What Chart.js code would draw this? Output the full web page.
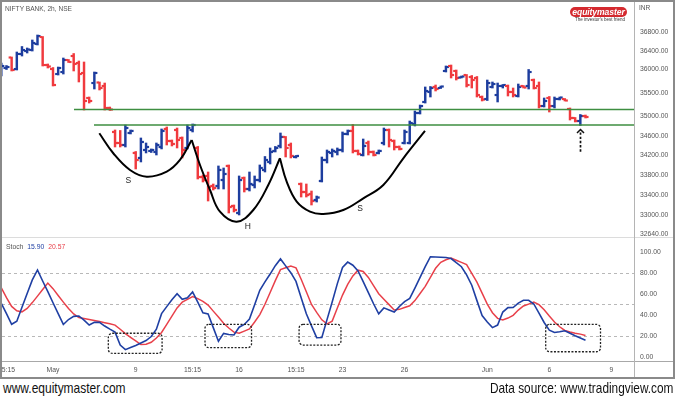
<!DOCTYPE html>
<html><head><meta charset="utf-8">
<script src="https://cdn.jsdelivr.net/npm/chart.js@4"></script>
<style>
html,body{margin:0;padding:0;background:#fff;width:675px;height:398px;overflow:hidden;font-family:"Liberation Sans",Arial,sans-serif;}
canvas{position:absolute;left:0;}
#c1{top:0;}
#c2{top:237px;}
.abs{position:absolute;white-space:nowrap;}
.hl{position:absolute;height:1px;}
.foot{position:absolute;top:380px;font-family:"Liberation Sans",Arial,sans-serif;font-size:14.8px;color:#111;white-space:nowrap;}
#frame{position:absolute;left:0;top:0;width:675px;height:379px;border:2px solid #8a8a8a;box-sizing:border-box;pointer-events:none;}
</style></head><body>
<canvas id="c1" width="675" height="240"></canvas>
<canvas id="c2" width="675" height="141"></canvas>
<div class="hl" style="left:0;top:237px;width:675px;background:#dcdcdc"></div>
<div class="hl" style="left:0;top:361px;width:675px;background:#a8a8a8"></div>
<div class="abs" style="left:634px;top:0;width:1px;height:378px;background:#b4b4b4"></div>
<div class="abs" style="left:5px;top:5px;font-size:6.6px;color:#555">NIFTY BANK, 2h, NSE</div>
<div class="abs" style="left:639px;top:4px;font-size:6.6px;color:#555">INR</div>
<div class="abs" style="left:570px;top:7px;width:57px;height:10px;border-radius:5px;background:#d42a2f;color:#fff;font-weight:bold;font-style:italic;font-size:8.6px;line-height:10px;text-align:center;letter-spacing:-0.1px">equitymaster</div>
<div class="abs" style="left:548px;top:17px;width:104px;font-size:9px;color:#333;text-align:center;transform:scale(0.5);transform-origin:50% 0">The investor's best friend</div>
<div class="abs" style="left:6px;top:243px;font-size:6.8px;color:#555">Stoch <span style="color:#1f3fa3;margin-left:2px">15.90</span> <span style="color:#e8404a;margin-left:2px">20.57</span></div>
<div class="foot" style="left:3px;transform:scaleX(0.81);transform-origin:0 0">www.equitymaster.com</div>
<div class="foot" style="right:2px;transform:scaleX(0.80);transform-origin:100% 0">Data source: www.tradingview.com</div>
<div id="frame"></div>
<script>
// ---------- DATA ----------
const FIRST_INDEX = -10; // bar index of first bar (0 = 2 May 09:15)
const open  = [35940,36026,36252,36004,36328,36392,36414,36545,36697,36090,
  36004,35897,35940,36198,36284,36133,35919,35388,35705,35716,35642,35178,
  34679,34452,34411,34658,34248,34146,34309,34289,34268,34370,34741,34493,34720,34555,34350,34720,
  34350,33761,33782,33581,33581,33701,33984,33183,33045,33741,33521,33601,
  33701,33903,34065,34289,34391,34576,34411,34166,33621,33461,33421,33302,
  33681,34105,34248,34268,34309,34638,34700,34289,34207,34452,34268,34248,
  34452,34720,34493,34370,34452,34452,34844,35073,35304,35515,35621,35599,
  35962,36069,35962,35823,35876,35833,35812,35409,35367,35621,35451,35642,
  35642,35515,35430,35642,35642,35769,35642,35219,35388,35219,35367,35367,
  35157,34969,34906,35010];
const high  = [36133,36079,36263,36371,36490,36458,36632,36741,36708,36112,
  36036,36047,36241,36209,36338,36176,36155,35409,35940,35727,35705,35198,
  34720,34710,34823,34720,34278,34555,34452,34330,34452,34741,34782,34514,34761,34576,34823,34844,
  34381,33802,33862,33621,33984,33943,34004,33203,33782,33761,33862,33782,
  34004,34176,34350,34381,34658,34586,34452,34197,33641,33621,33481,33381,
  34166,34309,34330,34350,34679,34720,34834,34309,34534,34493,34289,34309,
  34761,34741,34514,34391,34720,34906,35115,35240,35621,35631,35663,35642,
  36069,36090,35983,35855,35887,35865,35844,35430,35769,35727,35705,35674,
  35663,35599,35684,35652,35994,35790,35727,35388,35420,35409,35409,35377,
  35178,34979,35042,35031];
const low   = [35855,35994,35962,35983,36284,36349,36392,36523,36069,36026,
  35642,35876,35897,36144,35962,35727,35136,35282,35578,35557,35136,35126,
  34370,34370,34370,34638,33923,34065,34248,34258,34207,34330,34411,34391,34350,34146,34330,34679,
  33721,33661,33282,33501,33521,33521,33045,33065,33006,33461,33481,33541,
  33661,33862,34024,34268,34350,34166,34146,34146,33361,33361,33203,33262,
  33661,34044,34166,34207,34268,34617,34248,34207,34187,34207,34187,34228,
  34411,34370,34309,34309,34432,34432,34803,35052,35282,35409,35536,35589,
  35940,35812,35769,35812,35621,35599,35409,35325,35335,35599,35304,35599,
  35430,35409,35409,35599,35578,35578,35178,35198,35094,35178,35346,35325,
  34927,34886,34813,34969];
const close = [36069,36047,35983,36328,36414,36425,36567,36719,36090,36058,
  35663,36026,36198,36155,36112,35897,35325,35325,35919,35599,35178,35146,
  34452,34411,34761,34700,34105,34473,34370,34309,34411,34700,34493,34432,34514,34309,34761,34823,
  33761,33701,33561,33541,33903,33822,33163,33104,33701,33521,33621,33701,
  33943,34105,34268,34350,34576,34350,34187,34187,33461,33401,33282,33351,
  34105,34268,34289,34309,34638,34700,34289,34228,34391,34268,34207,34289,
  34720,34514,34370,34330,34679,34865,35073,35219,35536,35599,35578,35631,
  36047,35876,35812,35844,35663,35769,35451,35356,35705,35684,35642,35663,
  35515,35451,35621,35610,35940,35599,35219,35325,35219,35367,35398,35335,
  34969,34906,35010,34990];
const stochK = [51,41.4,31.2,34.1,47.4,60.5,73.4,82.9,72.4,62.2,
  51.7,41.3,31,35.7,38.7,39.1,35.2,30.5,33,33,29.5,26.5,
  23.7,11.3,7,9,11,13.4,15.7,19.5,26.5,41.3,48,54.6,60.2,55,56.3,62,
  52.2,42,41,28,15,22.5,21.4,21,28.4,31,36.2,49.7,
  63.5,71.5,79,87,93.4,86.8,80.3,72,56.5,41.2,29.6,18.4,
  18.6,35.6,52.4,69.9,85.3,90.4,87.4,82,71.8,61.4,50.7,41.1,
  46.8,44.8,42.8,48.1,52.7,55.8,65.7,75.9,86,95.5,95.2,95,
  94.8,93.8,89.8,86,78.3,68.4,53.7,39.5,33.3,28,30.4,42.8,
  47,47.1,51.3,54,54,50.5,41.7,32.9,25.6,23.4,24,25,
  22.6,20.2,18.1,15.9];
const stochD = [66,56.5,48.2,44.1,42.9,46.3,51.8,58,64.3,70.4,
  65.1,58.6,52.3,46.2,41,37.6,36.7,35.7,34.8,33.8,32.7,31.6,
  30.4,26.4,22.3,18.8,15.4,11.9,12.2,14,18.1,23.4,31,38.9,46.7,52.2,54.9,57.6,
  55.6,53,49.5,43.7,38.1,32.1,27.6,23.7,22.6,24.7,26.8,33.3,
  40.4,50.2,61.4,72.7,83.2,85,86.7,84.9,74,62.1,50,42.5,
  35.4,31.6,34.2,46.7,59,69.2,77.2,82.7,81.4,75.8,68,60.3,
  55.1,49.9,44.8,45.4,47.2,48.8,53.7,60.5,67.3,75.9,84.5,90.2,
  92.6,94.2,92.1,90.1,88,79.6,71.3,60.8,50.3,42.2,36.8,35.3,
  37.1,39.7,44.7,48.6,50.4,52.3,49.9,45,39,33.3,28.8,25.3,
  23.9,22.7,21.8,20.57];
const priceTicks = [32640,33000,33400,33800,34200,34600,35000,35500,36000,36400,36800];
const stochTicks = [0,20,40,50,60,80,100];
const stochBands = [20,50,80];
const timeTickIndex = [-9,0,16,27,36,47,56,68,84,96,108];
const timeTickLabels = ['15:15','May','9','15:15','16','15:15','23','26','Jun','6','9'];
// annotation levels / drawings (bar index, price)
const resistance = {from: 4.06, level: 35146};
const support = {from: 7.93, level: 34823};
const leftShoulder = [[8.96,34652],[11.66,34242],[14.89,33903],[18.12,33768],[22.0,33869],[24.56,34105],[26.83,34514]];
const headCurve = [[26.83,34514],[28.43,34004],[30.37,33501],[32.3,33071],[35.53,32875],[38.74,33104],[41.64,33601],[43.89,34140]];
const rightShoulder = [[43.89,34140],[45.2,33667],[47.14,33269],[49.71,33071],[52.28,33026],[56.15,33104],[60.02,33335],[63.89,33601],[67.76,34140],[71.95,34700]];
const hsLabels = [{x:14.56,y:33681,t:'S'},{x:37.7,y:32772,t:'H'},{x:59.4,y:33137,t:'S'}];
const arrowMark = {x:102, from:34275, to:34741};
const stochBoxes = [[10.7,21.1,22.6,3.5],[29.4,38.4,31.1,8.9],[47.6,55.7,31.1,11.4],[95.3,105.9,31.1,5]];

// ---------- VIEW ----------
const X_MIN = -9.865, X_MAX = 112.38;
const PRICE_MIN = 32576, PRICE_MAX = 37515;
const STOCH_MIN = -4.76, STOCH_MAX = 114.3;
const BLUE = '#1d3d9e', RED = '#f03a3e', GREEN = '#3e8e41';
const TICK_HALF = 16;
const BAR_W = 1.8;
const FONT = {family:'"Liberation Sans", Arial, sans-serif', size:6.8};

const idx = open.map((_, k) => k + FIRST_INDEX);
const barColor = close.map((c, k) => c >= open[k] ? BLUE : RED);

function fixAxis(width){
  return function(s){
    if (width !== undefined) { if (s.isHorizontal()) s.height = width; else s.width = width; }
    s.paddingLeft = 0; s.paddingRight = 0; s.paddingTop = 0; s.paddingBottom = 0;
  };
}

const overlay1 = {
  id:'overlay1',
  afterDatasetsDraw(chart){
    const {ctx, scales:{x, y}} = chart;
    ctx.save();
    ctx.fillStyle = '#222';
    ctx.font = '8.5px "Liberation Sans", Arial';
    ctx.textAlign = 'center'; ctx.textBaseline = 'middle';
    hsLabels.forEach(l => ctx.fillText(l.t, x.getPixelForValue(l.x), y.getPixelForValue(l.y)));
    const ax = Math.round(x.getPixelForValue(arrowMark.x)) + 0.5;
    const y0 = y.getPixelForValue(arrowMark.from), y1 = y.getPixelForValue(arrowMark.to);
    ctx.strokeStyle = '#111'; ctx.lineWidth = 1.7;
    ctx.setLineDash([2.4, 1.8]);
    ctx.beginPath(); ctx.moveTo(ax, y0); ctx.lineTo(ax, y1 + 1.5); ctx.stroke();
    ctx.setLineDash([]);
    ctx.lineWidth = 1.5;
    ctx.beginPath(); ctx.moveTo(ax - 3.5, y1 + 4); ctx.lineTo(ax, y1 + 0.5); ctx.lineTo(ax + 3.5, y1 + 4); ctx.stroke();
    ctx.restore();
  }
};
const overlay2 = {
  id:'overlay2',
  afterDatasetsDraw(chart){
    const {ctx, scales:{x, y}} = chart;
    ctx.save();
    ctx.strokeStyle = '#222'; ctx.lineWidth = 1.3; ctx.setLineDash([2, 1.5]);
    stochBoxes.forEach(b => {
      const l = x.getPixelForValue(b[0]), r = x.getPixelForValue(b[1]);
      const t = y.getPixelForValue(b[2]), bt = y.getPixelForValue(b[3]);
      ctx.beginPath(); ctx.roundRect(l, t, r - l, bt - t, 4); ctx.stroke();
    });
    ctx.restore();
  }
};

const curveDs = (pts) => ({type:'line', data: pts.map(p => ({x:p[0], y:p[1]})), borderColor:'#000', borderWidth:2,
  pointRadius:0, tension:0.4, fill:false});
const levelDs = (lv) => ({type:'line', data:[{x:lv.from, y:lv.level},{x:X_MAX, y:lv.level}], borderColor:GREEN,
  borderWidth:1.3, pointRadius:0, fill:false});

new Chart(document.getElementById('c1'), {
  type:'bar',
  data:{ datasets:[
    curveDs(leftShoulder), curveDs(headCurve), curveDs(rightShoulder),
    levelDs(resistance), levelDs(support),
    {label:'open', data: idx.map((x,k)=>({x, y:[open[k]-TICK_HALF, open[k]+TICK_HALF]})), backgroundColor: barColor, barThickness:BAR_W},
    {label:'hl', data: idx.map((x,k)=>({x, y:[low[k], high[k]]})), backgroundColor: barColor, barThickness:BAR_W},
    {label:'close', data: idx.map((x,k)=>({x, y:[close[k]-TICK_HALF, close[k]+TICK_HALF]})), backgroundColor: barColor, barThickness:BAR_W}
  ]},
  options:{
    responsive:false, animation:false, devicePixelRatio:1,
    layout:{padding:{left:2, right:0, top:0, bottom:3}},
    plugins:{legend:{display:false}, tooltip:{enabled:false}},
    scales:{
      x:{type:'linear', min:X_MIN, max:X_MAX, offset:false, display:false, bounds:'data', grid:{display:false}},
      y:{type:'logarithmic', position:'right', min:PRICE_MIN, max:PRICE_MAX, bounds:'data',
        grid:{display:false, drawTicks:false}, border:{display:false},
        afterBuildTicks: s => { s.ticks = priceTicks.map(v => ({value:v})); },
        afterFit: fixAxis(41),
        ticks:{padding:6, color:'#555', font:FONT, autoSkip:false, callback: v => Number(v).toFixed(2)}}
    }
  },
  plugins:[overlay1]
});

new Chart(document.getElementById('c2'), {
  type:'line',
  data:{ datasets:[
    {data: idx.map((x,k)=>({x, y:stochK[k]})), borderColor:'#1f3fa3', borderWidth:1.6, pointRadius:0, tension:0, fill:false},
    {data: idx.map((x,k)=>({x, y:stochD[k]})), borderColor:'#e8404a', borderWidth:1.5, pointRadius:0, tension:0, fill:false}
  ]},
  options:{
    responsive:false, animation:false, devicePixelRatio:1,
    layout:{padding:{left:2, right:0, top:0, bottom:0}},
    plugins:{legend:{display:false}, tooltip:{enabled:false}},
    scales:{
      x:{type:'linear', min:X_MIN, max:X_MAX, offset:false, bounds:'data',
        grid:{display:false, drawTicks:false}, border:{display:false},
        afterBuildTicks: s => { s.ticks = timeTickIndex.map(v => ({value:v})); },
        afterFit: fixAxis(16),
        ticks:{padding:4, color:'#555', font:FONT, autoSkip:false, maxRotation:0, minRotation:0,
          callback: (v, i) => timeTickLabels[i]}},
      y:{type:'linear', position:'right', min:STOCH_MIN, max:STOCH_MAX, bounds:'data',
        grid:{drawTicks:false, lineWidth:1, color: c => stochBands.includes(c.tick && c.tick.value) ? '#b8b8b8' : 'rgba(0,0,0,0)'},
        border:{display:false, dash:[3,3]},
        afterBuildTicks: s => { s.ticks = stochTicks.map(v => ({value:v})); },
        afterFit: fixAxis(41),
        ticks:{padding:6, color:'#555', font:FONT, autoSkip:false, callback: v => v === 50 ? '' : Number(v).toFixed(2)}}
    }
  },
  plugins:[overlay2]
});
</script>
</body></html>
